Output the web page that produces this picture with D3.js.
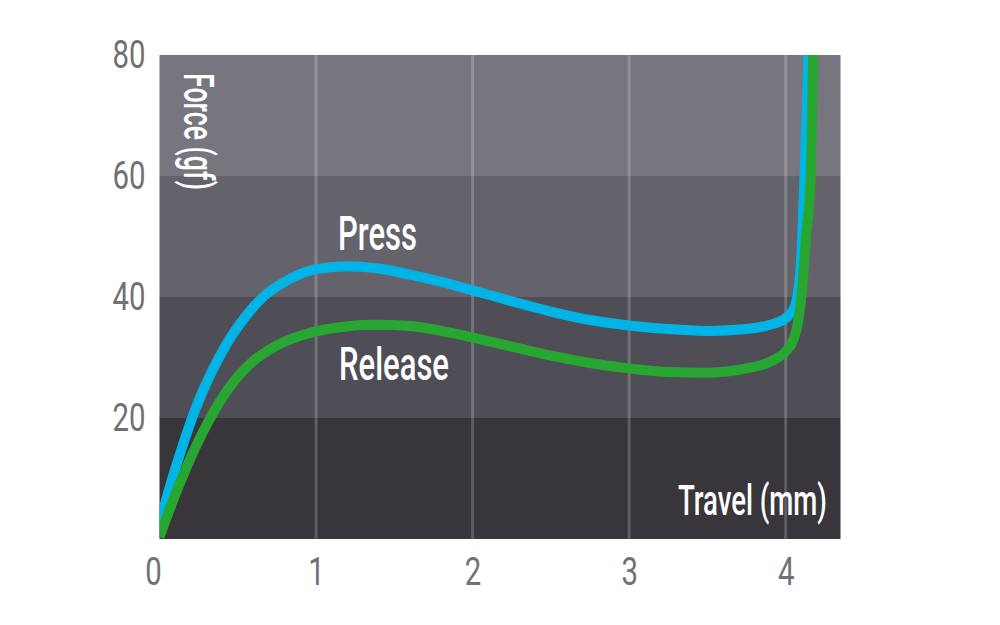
<!DOCTYPE html>
<html>
<head>
<meta charset="utf-8">
<script src="https://cdn.jsdelivr.net/npm/d3@7"></script>
<style>
  html, body { margin: 0; padding: 0; background: #ffffff; }
  #chart-container svg { display: block; }
  .lbl { font-family: Roboto, "Liberation Sans", sans-serif; }
</style>
</head>
<body>
<div id="chart-container"></div>
<script>
// travel (mm) vs force (gf)
const pressData = [
  [0, 2.5], [0.07, 9], [0.14, 14.8], [0.227, 21.3], [0.333, 27.6], [0.43, 32.3],
  [0.557, 37], [0.653, 39.8], [0.834, 43], [1.0, 44.6], [1.2, 45.1], [1.4, 44.7],
  [1.6, 43.7], [1.8, 42.5], [2.0, 41.1], [2.25, 39.3], [2.5, 37.6], [2.75, 36.2],
  [3.0, 35.3], [3.25, 34.7], [3.5, 34.4], [3.75, 34.7], [3.9, 35.4], [4.0, 36.5],
  [4.05, 38], [4.08, 41], [4.1, 47], [4.12, 60], [4.145, 80]
];
const releaseData = [
  [0, 0.3], [0.1, 7.3], [0.175, 12], [0.31, 19.3], [0.4, 23.3], [0.48, 26.2],
  [0.59, 29.2], [0.75, 32], [0.98, 34.2], [1.15, 35], [1.38, 35.4], [1.6, 35.2],
  [1.8, 34.4], [2.0, 33.3], [2.25, 31.8], [2.5, 30.3], [2.75, 29.1], [3.0, 28.2],
  [3.25, 27.6], [3.5, 27.5], [3.75, 28.2], [3.9, 29.3], [4.0, 31], [4.05, 33],
  [4.08, 36], [4.1, 40], [4.13, 50], [4.16, 60], [4.175, 80]
];
const xTicks = [0, 1, 2, 3, 4];
const yTicks = [20, 40, 60, 80];
const bandEdges = [0, 20, 40, 60, 80];
const bandColors = ["#38353b", "#4f4e56", "#64636b", "#77767f"];

const width = 1000;
const height = 625;
const margin = { top: 55, right: 159.5, bottom: 86, left: 159.5 };

const x = d3.scaleLinear().domain([0, 4.35]).range([margin.left, width - margin.right]);
const y = d3.scaleLinear().domain([0, 80]).range([height - margin.bottom, margin.top]);

const svg = d3.select("#chart-container")
  .append("svg")
  .attr("width", width)
  .attr("height", height);

svg.append("defs").append("clipPath")
  .attr("id", "plot-clip")
  .append("rect")
  .attr("x", x(0))
  .attr("y", y(80))
  .attr("width", x(4.35) - x(0))
  .attr("height", y(0) - y(80));

// background bands
svg.append("g")
  .selectAll("rect")
  .data(bandColors)
  .join("rect")
  .attr("x", x(0))
  .attr("width", x(4.35) - x(0))
  .attr("y", (_, i) => y(bandEdges[i + 1]))
  .attr("height", (_, i) => y(bandEdges[i]) - y(bandEdges[i + 1]))
  .attr("fill", d => d);

// vertical grid lines
svg.append("g")
  .selectAll("line")
  .data(xTicks.filter(d => d > 0))
  .join("line")
  .attr("x1", d => x(d))
  .attr("x2", d => x(d))
  .attr("y1", y(80))
  .attr("y2", y(0))
  .attr("stroke", "rgba(255,255,255,0.2)")
  .attr("stroke-width", 3);

// axes, labels only
const xAxis = svg.append("g")
  .attr("transform", `translate(0,${y(0)})`)
  .call(d3.axisBottom(x).tickValues(xTicks).tickSize(0).tickPadding(18).tickFormat(d3.format("d")));
const yAxis = svg.append("g")
  .attr("transform", `translate(${x(0)},0)`)
  .call(d3.axisLeft(y).tickValues(yTicks).tickSize(0).tickPadding(14).tickFormat(d3.format("d")));

[xAxis, yAxis].forEach(g => {
  g.select(".domain").remove();
  g.selectAll("text")
    .attr("class", "lbl")
    .attr("font-size", 39)
    .attr("fill", "#707075")
    .attr("textLength", d => String(d).length * 16.5)
    .attr("lengthAdjust", "spacingAndGlyphs");
});
xAxis.selectAll("text").attr("dx", d => d === 0 ? -6.5 : 0);

// curves
const line = d3.line()
  .x(d => x(d[0]))
  .y(d => y(d[1]))
  .curve(d3.curveMonotoneX);

const curves = svg.append("g").attr("clip-path", "url(#plot-clip)");
curves.append("path")
  .datum(pressData)
  .attr("d", line)
  .attr("fill", "none")
  .attr("stroke", "#00b4e6")
  .attr("stroke-width", 10);
curves.append("path")
  .datum(releaseData)
  .attr("d", line)
  .attr("fill", "none")
  .attr("stroke", "#27a732")
  .attr("stroke-width", 10);

// text labels
const labels = [
  { text: "Press", x: 338, y: 250, size: 48, len: 79 },
  { text: "Release", x: 339, y: 380, size: 46, len: 110 },
  { text: "Travel (mm)", x: 678, y: 515, size: 42, len: 149 }
];
svg.append("g")
  .selectAll("text")
  .data(labels)
  .join("text")
  .attr("class", "lbl")
  .attr("x", d => d.x).attr("y", d => d.y)
  .attr("font-size", d => d.size)
  .attr("font-weight", 500)
  .attr("fill", "#ffffff")
  .attr("textLength", d => d.len).attr("lengthAdjust", "spacingAndGlyphs")
  .text(d => d.text);
svg.append("text")
  .attr("class", "lbl")
  .attr("transform", "translate(184,73) rotate(90)")
  .attr("font-size", 42)
  .attr("font-weight", 500)
  .attr("fill", "#ffffff")
  .attr("textLength", 117).attr("lengthAdjust", "spacingAndGlyphs")
  .text("Force (gf)");
</script>
</body>
</html>
